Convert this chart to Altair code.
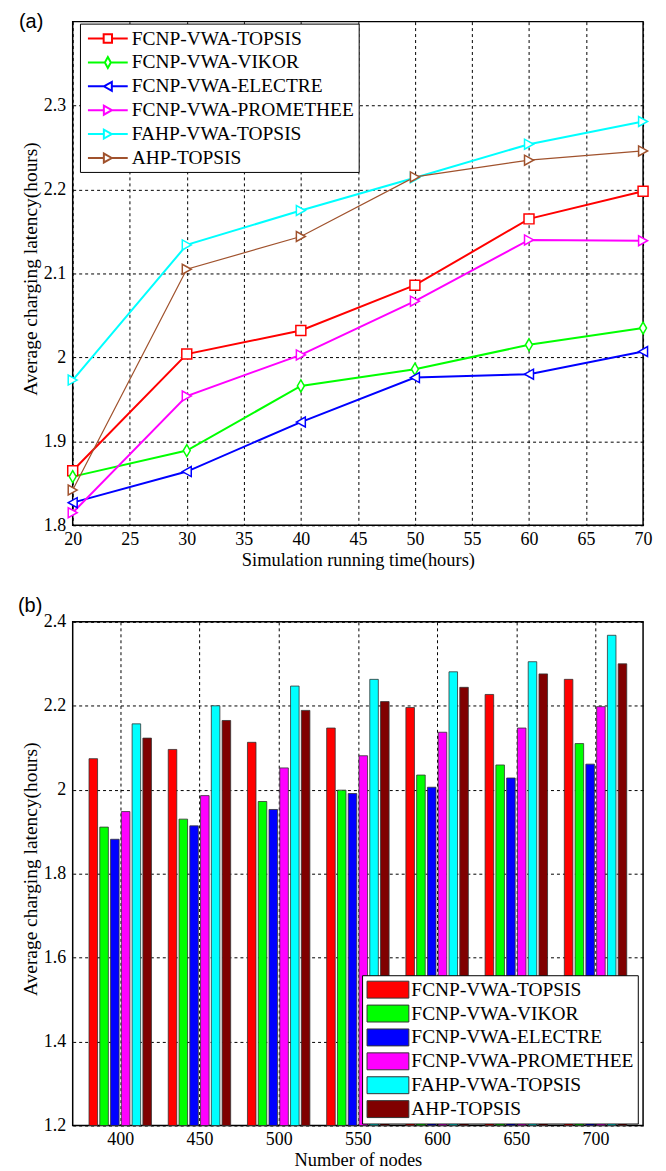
import altair as alt
import pandas as pd

# ---------------- data ----------------
series = ["FCNP-VWA-TOPSIS", "FCNP-VWA-VIKOR", "FCNP-VWA-ELECTRE",
          "FCNP-VWA-PROMETHEE", "FAHP-VWA-TOPSIS", "AHP-TOPSIS"]

sim_time = [20, 30, 40, 50, 60, 70]
lat_topsis = [1.865, 2.004, 2.032, 2.086, 2.165, 2.198]
lat_vikor = [1.858, 1.889, 1.966, 1.986, 2.015, 2.035]
lat_electre = [1.827, 1.864, 1.923, 1.976, 1.980, 2.007]
lat_promethee = [1.815, 1.954, 2.003, 2.067, 2.140, 2.139]
lat_fahp = [1.973, 2.134, 2.175, 2.214, 2.254, 2.281]
lat_ahp = [1.842, 2.105, 2.144, 2.215, 2.235, 2.246]

nodes = [400, 450, 500, 550, 600, 650, 700]
bar_topsis = [2.074, 2.096, 2.113, 2.147, 2.196, 2.227, 2.263]
bar_vikor = [1.911, 1.930, 1.972, 1.999, 2.035, 2.059, 2.110]
bar_electre = [1.882, 1.914, 1.953, 1.991, 2.006, 2.028, 2.061]
bar_promethee = [1.948, 1.986, 2.052, 2.081, 2.137, 2.147, 2.198]
bar_fahp = [2.157, 2.200, 2.247, 2.263, 2.281, 2.305, 2.368]
bar_ahp = [2.123, 2.165, 2.189, 2.210, 2.244, 2.276, 2.300]

time_ticks = [20, 25, 30, 35, 40, 45, 50, 55, 60, 65, 70]
lat_ticks = [1.8, 1.9, 2.0, 2.1, 2.2, 2.3]
bar_y_ticks = [1.2, 1.4, 1.6, 1.8, 2.0, 2.2, 2.4]

# ---------------- styles ----------------
SERIF = "Liberation Serif"
SANS = "Liberation Sans"
line_colors = ["#FF0000", "#00FF00", "#0000FF", "#FF00FF", "#00FFFF", "#A0522D"]
bar_colors = ["#FF0000", "#00FF00", "#0000FF", "#FF00FF", "#00FFFF", "#800000"]
line_widths = [2, 2, 2, 2, 2, 1.2]
point_shapes = ["M-1,-1H1V1H-1Z",
                "M0,-1.2L0.7,0L0,1.2L-0.7,0Z",
                "M-0.9,0L0.9,-1L0.9,1Z",
                "M0.9,0L-0.9,-1L-0.9,1Z",
                "M0.9,0L-0.9,-1L-0.9,1Z",
                "M0.9,0L-0.9,-1L-0.9,1Z"]
legend_paths = [
    "M-2,0H-0.42M0.42,0H2M-0.42,-0.42H0.42V0.42H-0.42Z",
    "M-2,0H-0.3M0.3,0H2M0,-0.55L0.3,0L0,0.55L-0.3,0Z",
    "M-2,0H-0.4M0.4,0H2M-0.4,0L0.4,-0.45L0.4,0.45Z",
    "M-2,0H-0.4M0.4,0H2M0.4,0L-0.4,-0.45L-0.4,0.45Z",
    "M-2,0H-0.4M0.4,0H2M0.4,0L-0.4,-0.45L-0.4,0.45Z",
    "M-2,0H-0.4M0.4,0H2M0.4,0L-0.4,-0.45L-0.4,0.45Z",
]

W, H = 573, 506

# ---------------- tables ----------------
top_vals = [lat_topsis, lat_vikor, lat_electre, lat_promethee, lat_fahp, lat_ahp]
top_rows = []
for s, vals in zip(series, top_vals):
    for t, v in zip(sim_time, vals):
        top_rows.append({"series": s, "time": t, "latency": v})
top_df = pd.DataFrame(top_rows)

bar_vals = [bar_topsis, bar_vikor, bar_electre, bar_promethee, bar_fahp, bar_ahp]
bar_rows = []
for i, (s, vals) in enumerate(zip(series, bar_vals)):
    for n, v in zip(nodes, vals):
        bar_rows.append({"series": s, "idx": i, "nodes": n, "latency": v})
bar_df = pd.DataFrame(bar_rows)

# ---------------- top chart ----------------
x_top = alt.X("time:Q", scale=alt.Scale(domain=[20, 70], nice=False, zero=False),
              axis=alt.Axis(values=time_ticks, title="Simulation running time(hours)",
                            format="d"))
y_top = alt.Y("latency:Q", scale=alt.Scale(domain=[1.8, 2.4], nice=False, zero=False),
              axis=alt.Axis(values=lat_ticks, format=".1~f", titleY=248,
                            title="Average charging latency(hours)"))

top_legend = alt.Legend(
    title=None, orient="none", legendX=7.3, legendY=2, padding=4,
    symbolSize=400, symbolStrokeWidth=2, symbolOffset=13, labelOffset=13,
    rowPadding=3, labelFont=SERIF, labelFontSize=19.5, labelColor="black",
    strokeColor="black", fillColor="white", labelLimit=400, symbolOpacity=1,
    symbolFillColor="white",
)

series_layers = []
for s, c, w in zip(series, line_colors, line_widths):
    base = alt.Chart(top_df).transform_filter(alt.datum.series == s)
    series_layers.append(base.mark_line(stroke=c, strokeWidth=w).encode(x=x_top, y=y_top))
for s, c, shp in zip(series, line_colors, point_shapes):
    base = alt.Chart(top_df).transform_filter(alt.datum.series == s)
    series_layers.append(base.mark_point(
        shape=shp, size=100, fill="white", fillOpacity=1, stroke=c,
        strokeWidth=1.5, opacity=1).encode(x=x_top, y=y_top))

# layer that only carries the legend (its marks fall outside the clipped plot)
legend_layer = alt.Chart(top_df).mark_point(clip=True, filled=False, strokeWidth=2).encode(
    x=alt.datum(30), y=alt.datum(5),
    color=alt.Color("series:N", scale=alt.Scale(domain=series, range=line_colors),
                    legend=top_legend, sort=series),
    shape=alt.Shape("series:N", scale=alt.Scale(domain=series, range=legend_paths),
                    legend=top_legend, sort=series),
)

label_a = alt.Chart(pd.DataFrame({"t": ["(a)"]})).mark_text(
    font=SANS, fontSize=20, align="left", baseline="middle", color="black"
).encode(x=alt.value(-54), y=alt.value(0), text="t:N")

top = alt.layer(*series_layers, legend_layer, label_a).properties(width=W, height=H)

# ---------------- bottom chart ----------------
x_bot = alt.X("x0:Q", scale=alt.Scale(domain=[370, 730], nice=False, zero=False),
              axis=alt.Axis(values=nodes, title="Number of nodes", format="d"))
y_bot = alt.Y("latency:Q", scale=alt.Scale(domain=[1.2, 2.4], nice=False, zero=False),
              axis=alt.Axis(values=bar_y_ticks, format=".1~f", titleY=248,
                            title="Average charging latency(hours)"))

bot_legend = alt.Legend(
    title=None, orient="none", legendX=290.7, legendY=355, padding=4,
    symbolType="M-2.1,-0.85H2.1V0.85H-2.1Z", symbolSize=400,
    symbolStrokeWidth=1, symbolStrokeColor="#333333", symbolOffset=11.5,
    labelOffset=13, rowPadding=3, labelFont=SERIF, labelFontSize=19.5,
    labelColor="black", strokeColor="black", fillColor="white", labelLimit=400,
)

bars = alt.Chart(bar_df).transform_calculate(
    xc="datum.nodes + (datum.idx - 2.5) * 6.8"
).transform_calculate(
    x0="datum.xc - 2.7", x1="datum.xc + 2.7"
).mark_bar(stroke="#333333", strokeWidth=0.8).encode(
    x=x_bot, x2="x1:Q", y=y_bot, y2=alt.datum(1.2),
    color=alt.Color("series:N", scale=alt.Scale(domain=series, range=bar_colors),
                    legend=bot_legend, sort=series),
)
label_b = alt.Chart(pd.DataFrame({"t": ["(b)"]})).mark_text(
    font=SANS, fontSize=20, align="left", baseline="middle", color="black"
).encode(x=alt.value(-55), y=alt.value(-16), text="t:N")

bottom = alt.layer(bars, label_b).properties(width=W, height=H)

chart = alt.vconcat(top, bottom, spacing=25).resolve_scale(
    color="independent", shape="independent"
).resolve_legend(
    color="independent", shape="independent"
).properties(
    padding={"left": 9, "top": 0, "right": 5, "bottom": 0}
).configure_view(
    stroke="black", strokeWidth=1.5
).configure_axis(
    labelFont=SERIF, labelFontSize=18, labelColor="black",
    titleFont=SERIF, titleFontSize=18.5, titleFontWeight="normal", titleColor="black",
    grid=True, gridColor="black", gridDash=[3, 3], gridWidth=1, gridOpacity=1,
    domain=False, ticks=False, labelFlush=False, labelOverlap=False,
).configure_axisY(
    labelPadding=7, titlePadding=3, titleFontSize=19.5
).configure_axisX(
    labelPadding=5, titlePadding=2
).configure_legend(
    labelFont=SERIF, labelFontSize=19.5, labelColor="black", labelLimit=400
)

chart.save("out.html", embed_options={"renderer": "svg", "actions": False})
